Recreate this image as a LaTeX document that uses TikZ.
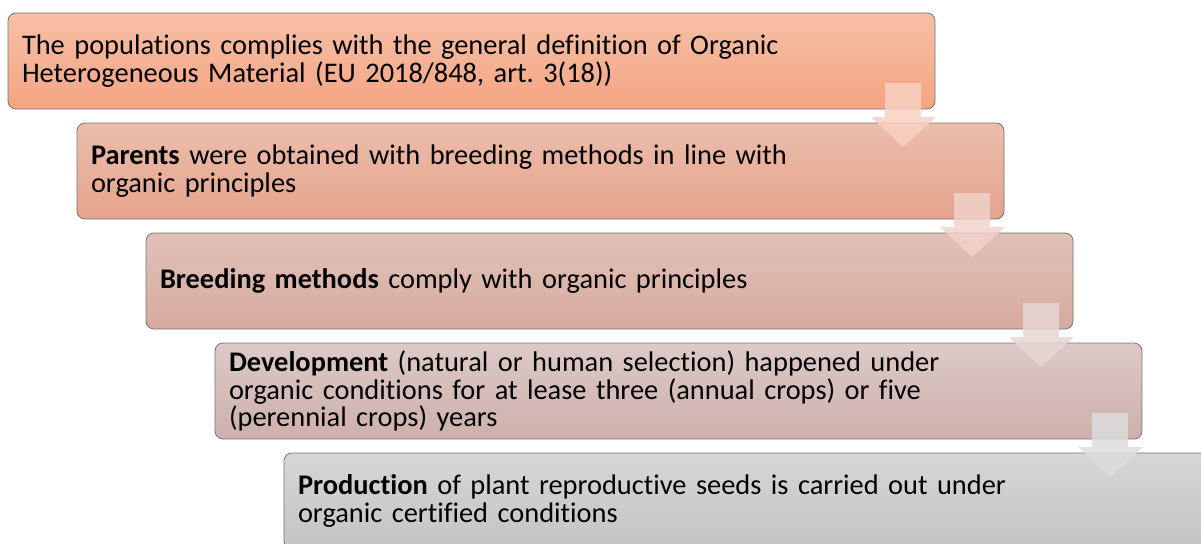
\documentclass[tikz,border=0pt]{standalone}
\usepackage{fontspec}
\setmainfont{Carlito}[Ligatures=NoCommon]
\usetikzlibrary{calc}
\frenchspacing
\definecolor{aone}{HTML}{F8D0C2}
\definecolor{atwo}{HTML}{F0D2CA}
\definecolor{athree}{HTML}{E8D6D3}
\definecolor{afour}{HTML}{DDDDDD}
\newcommand{\stagearrow}[2]{%
  \fill[flowarrow, fill=#2] ($(#1.south east)+(-50,-26)$) -- ++(36,0) -- ++(0,34) -- ++(15,0)
    -- ++(-33,30) -- ++(-32,-30) -- ++(14,0) -- cycle;}
\begin{document}
\begin{tikzpicture}[x=1pt,y=-1pt,
  stage/.style={draw=black!55, line width=0.8pt, rounded corners=8pt, anchor=north west,
    minimum width=927pt, minimum height=96pt, text width=899pt, inner xsep=14pt,
    inner ysep=0pt, outer sep=0pt, align=left, font=\fontsize{28.4}{27.5}\selectfont},
  flowarrow/.style={fill opacity=0.85, draw=none}]
\useasboundingbox (0,0) rectangle (1201,543);
\clip (0,0) rectangle (1201,543);
\node[stage, top color={rgb,255:red,247;green,192;blue,167}, bottom color={rgb,255:red,244;green,164;blue,130}] (b1) at (8,13)
  {The populations complies with the general definition of Organic\\Heterogeneous Material (EU 2018/848, art. 3(18))};
\node[stage, top color={rgb,255:red,235;green,190;blue,172}, bottom color={rgb,255:red,229;green,163;blue,140}] (b2) at (77,123)
  {\textbf{Parents} were obtained with breeding methods in line with\\organic principles};
\node[stage, top color={rgb,255:red,225;green,194;blue,184}, bottom color={rgb,255:red,214;green,170;blue,159}] (b3) at (146,233)
  {\textbf{Breeding methods} comply with organic principles};
\node[stage, top color={rgb,255:red,221;green,202;blue,198}, bottom color={rgb,255:red,205;green,176;blue,172}] (b4) at (215,343)
  {\textbf{Development} (natural or human selection) happened under\\organic conditions for at lease three (annual crops) or five\\(perennial crops) years};
\node[stage, top color={rgb,255:red,214;green,214;blue,214}, bottom color={rgb,255:red,196;green,196;blue,196}] (b5) at (284,453)
  {\textbf{Production} of plant reproductive seeds is carried out under\\organic certified conditions};
\stagearrow{b1}{aone}
\stagearrow{b2}{atwo}
\stagearrow{b3}{athree}
\stagearrow{b4}{afour}
\end{tikzpicture}
\end{document}
